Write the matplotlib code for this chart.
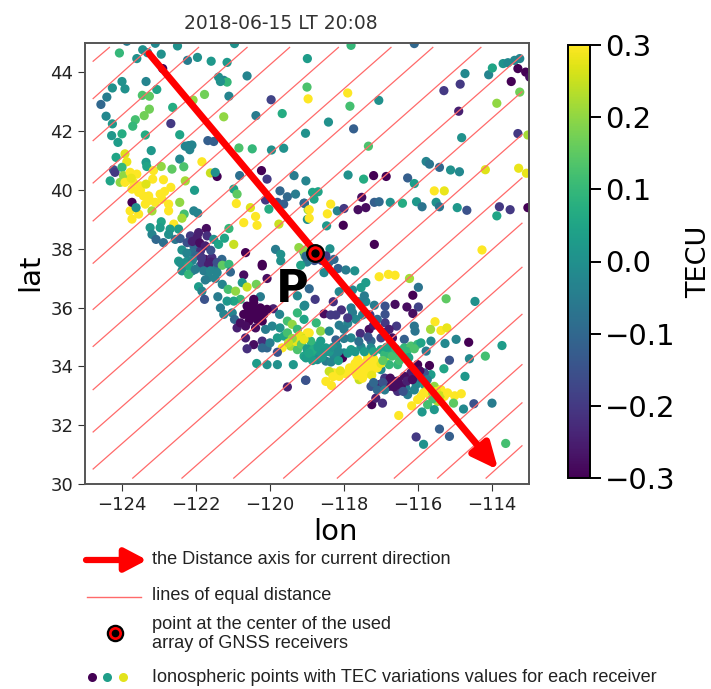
import matplotlib
matplotlib.use("Agg")
import matplotlib.pyplot as plt
from matplotlib.lines import Line2D
from matplotlib.patches import FancyArrowPatch

W, H = 711, 689

# (lon, lat, TEC), by region
points_north = [
    (-124.07, 44.66, .1), (-123.87, 45.06, -.05), (-123.44, 44.77, 0), (-123.31, 44.67, -.02), (-123.6, 44.47, 0),
    (-123.10, 44.99, -.02), (-122.94, 44.62, 0), (-122.5, 44.9, 0), (-122.23, 44.41, -.05), (-121.96, 44.51, 0),
    (-121.59, 44.38, .02), (-121.16, 44.34, .02), (-120.96, 44.98, 0), (-120.62, 43.88, -.03), (-121.39, 43.84, 0),
    (-121.25, 43.73, -.02), (-121.16, 43.67, .1), (-121.34, 43.69, 0), (-121.11, 43.19, -.03), (-118.99, 44.47, .03),
    (-119.0, 43.5, .13), (-118.97, 43.1, .3), (-119.97, 43.07, -.18), (-119.67, 42.6, .07), (-120.38, 42.53, -.05),
    (-121.25, 42.49, .2), (-121.77, 43.25, .17), (-122.08, 43.06, .2), (-122.9, 44.13, -.3), (-123.35, 43.69, -.03),
    (-123.06, 43.42, .05), (-123.45, 43.22, .13), (-123.26, 43.19, .15), (-122.63, 42.81, .07), (-123.26, 42.75, .17),
    (-123.4, 42.53, .17), (-123.64, 42.39, .12), (-123.71, 42.17, .1), (-122.68, 42.26, -.2), (-122.44, 41.88, .05),
    (-123.37, 41.87, .07), (-124.0, 41.91, .07), (-124.26, 42.25, .02), (-124.28, 41.85, .02), (-124.11, 41.62, .03),
    (-124.43, 42.51, -.02), (-124.57, 42.91, -.1), (-124.41, 43.16, -.05), (-124.26, 43.47, 0), (-124.0, 43.69, 0),
    (-123.92, 43.44, 0), (-122.2, 41.51, -.03), (-122.11, 41.53, -.03), (-122.29, 41.49, -.03), (-122.17, 41.37, -.03),
    (-121.68, 41.68, -.12), (-121.52, 41.65, -.12), (-123.21, 41.34, .02), (-122.44, 41.05, -.02), (-123.35, 40.94, .03),
    (-123.33, 40.8, .05),
]
points_nw_coast = [
    (-124.16, 41.11, .05), (-123.92, 41.23, .27), (-123.87, 40.96, .28), (-124.23, 40.69, -.15), (-124.19, 40.6, -.2),
    (-124.32, 40.31, .05), (-124.0, 40.77, .1), (-123.96, 40.49, .2), (-124.05, 40.26, .2), (-123.78, 40.6, .3),
    (-123.6, 40.54, .3), (-123.92, 40.26, .3), (-123.69, 40.26, .3), (-123.73, 40.03, .3), (-123.51, 40.14, .3),
    (-123.55, 39.92, .3), (-123.42, 39.8, .3), (-123.28, 39.8, .3), (-123.37, 39.52, .3), (-123.15, 40.66, .3),
    (-123.17, 40.37, .3), (-122.88, 40.35, .3), (-122.68, 40.09, .3), (-122.97, 39.86, .3), (-122.92, 39.69, .3),
    (-123.1, 39.58, .3), (-122.74, 39.52, .3), (-122.74, 39.29, .3), (-123.78, 39.29, .3), (-123.55, 39.18, .3),
    (-123.73, 39.01, .3), (-123.19, 39.29, .22), (-122.94, 40.8, .2), (-122.65, 40.71, .15), (-122.33, 40.79, .13),
    (-122.29, 40.31, .22), (-121.84, 40.96, .3), (-121.61, 40.58, .25), (-121.43, 40.46, -.3), (-121.48, 40.6, 0),
    (-123.73, 39.58, -.3), (-123.62, 39.4, 0), (-122.04, 39.99, .03), (-122.44, 39.58, .2), (-122.06, 39.29, -.03),
    (-121.95, 39.21, -.03), (-122.32, 39.18, .12), (-122.38, 39.04, .22), (-122.6, 38.84, .3),
    (-123.75, 40.4, .28), (-123.5, 40.0, .3), (-123.35, 40.2, .27), (-123.25, 39.65, .3), (-122.85, 39.95, .3),
]
points_mid = [
    (-122.94, 38.92, .05), (-122.97, 38.72, .03), (-123.24, 38.72, .02), (-123.19, 38.49, -.03), (-123.08, 38.32, -.1),
    (-122.88, 38.21, -.08), (-122.7, 38.67, .03), (-122.47, 38.67, .03), (-122.74, 38.49, 0), (-122.56, 38.32, -.06),
    (-122.43, 38.35, -.12), (-122.15, 38.44, -.2), (-121.93, 38.55, -.25), (-121.72, 38.69, -.28), (-121.97, 38.38, -.25),
    (-121.7, 38.44, -.22), (-122.24, 38.21, -.15), (-122.06, 38.1, -.1), (-122.38, 37.96, 0), (-122.11, 37.87, -.08),
    (-121.88, 37.93, -.22), (-121.75, 37.64, -.27), (-121.57, 37.7, -.22), (-121.52, 38.32, 0), (-121.39, 38.15, .05),
    (-121.23, 38.36, .05), (-121.11, 38.69, .1), (-120.98, 38.15, .25), (-120.66, 37.87, -.3), (-121.3, 37.64, -.1),
    (-122.47, 37.58, .03), (-122.24, 37.58, 0), (-120.84, 41.43, .13), (-120.48, 41.4, .1), (-119.96, 41.36, 0),
    (-119.63, 41.42, 0), (-119.04, 41.93, 0), (-119.35, 40.49, -.05), (-119.03, 40.31, -.03), (-120.23, 40.66, -.3),
    (-120.08, 40.37, -.2), (-120.82, 40.49, -.08), (-120.98, 40.03, .05), (-120.89, 39.86, .15), (-120.91, 39.54, .3),
    (-120.53, 39.4, .27), (-120.39, 39.1, .3), (-120.71, 38.89, .3), (-120.35, 38.8, .3), (-119.73, 39.97, -.1),
    (-119.53, 39.77, -.1), (-119.31, 39.86, -.05), (-120.12, 39.66, -.2), (-119.8, 39.58, -.15), (-119.63, 39.52, -.12),
    (-119.07, 39.55, -.1), (-120.03, 39.35, .07), (-118.97, 39.33, .2), (-119.76, 38.84, .25), (-118.99, 39.0, 0),
    (-119.85, 37.98, -.05), (-119.71, 37.81, 0), (-119.22, 38.04, .2), (-119.08, 37.87, 0), (-120.21, 37.47, -.3),
    (-122.1, 38.25, -.25), (-121.9, 38.2, -.28), (-121.75, 38.1, -.25), (-121.6, 37.95, -.15), (-122.0, 37.75, -.1),
    (-122.25, 37.85, -.03), (-121.85, 37.7, -.2), (-121.6, 37.55, -.25), (-121.45, 37.35, -.05), (-121.9, 37.4, -.05),
    (-122.1, 37.6, -.03), (-122.35, 37.4, .02), (-122.1, 37.25, -.02),
    (-118.95, 37.7, -.1), (-118.8, 37.6, -.15), (-118.6, 37.6, -.2), (-118.85, 38.0, 0), (-119.05, 37.75, .15),
    (-119.1, 37.95, .2), (-119.0, 37.55, -.05), (-118.4, 37.55, -.1),
]
points_northeast = [
    (-117.81, 44.92, .1), (-116.1, 44.98, -.1), (-117.9, 43.3, .3), (-117.84, 42.85, .12), (-117.06, 43.05, 0),
    (-118.42, 42.31, 0), (-117.74, 42.08, -.12), (-117.34, 41.49, .13), (-115.3, 43.38, -.2), (-114.86, 43.6, -.2),
    (-114.73, 43.96, -.02), (-114.09, 43.92, -.03), (-113.99, 44.15, .05), (-113.7, 44.3, 0), (-113.57, 44.33, -.02),
    (-113.39, 44.41, -.02), (-113.25, 44.47, -.03), (-113.3, 44.13, -.3), (-113.09, 44.01, -.3), (-112.98, 43.84, -.28),
    (-113.48, 43.69, -.3), (-113.25, 43.33, .17), (-113.87, 42.95, .2), (-114.9, 42.68, -.25), (-114.82, 41.78, 0),
    (-113.3, 41.92, -.2), (-113.03, 41.87, .22), (-115.78, 40.97, -.03), (-115.69, 40.88, -.07), (-115.42, 40.77, -.1),
    (-115.12, 40.68, 0), (-114.88, 40.62, -.02), (-114.18, 40.69, .27), (-113.28, 40.74, .28), (-113.07, 40.57, .28),
    (-117.89, 40.51, 0), (-117.47, 40.37, .07), (-117.2, 40.49, -.3), (-116.86, 40.46, -.3), (-116.28, 40.41, -.12),
    (-116.1, 40.22, .03), (-115.56, 39.97, .3), (-115.29, 39.97, .28), (-118.85, 39.92, .05), (-118.7, 39.94, .05),
    (-118.81, 39.69, .05), (-119.08, 39.55, -.1), (-118.36, 39.52, .3), (-118.94, 39.33, .3), (-118.45, 39.19, .3),
    (-118.94, 39.04, .3), (-118.18, 39.29, -.03), (-118.0, 39.37, -.2), (-117.62, 39.33, -.28), (-117.41, 39.4, -.28),
    (-117.52, 39.75, -.28), (-117.18, 39.58, -.12), (-117.05, 39.6, -.1), (-116.75, 39.58, 0), (-116.42, 39.55, .07),
    (-116.04, 39.6, .02), (-115.89, 39.43, -.07), (-115.51, 39.58, 0), (-115.42, 39.43, -.07), (-114.94, 39.4, .02),
    (-114.68, 39.31, -.15), (-113.8, 39.43, -.2), (-113.51, 39.33, -.2), (-113.03, 39.4, -.3), (-113.87, 39.12, .05),
    (-118.47, 38.78, .02), (-118.02, 38.8, -.3), (-117.18, 38.15, -.3), (-114.27, 37.96, .3), (-118.38, 38.0, 0),
    (-118.27, 37.64, -.1), (-118.49, 37.76, -.2), (-119.03, 37.75, -.1),
]
points_central = [
    (-120.21, 37.42, -.3), (-120.71, 37.11, -.28), (-120.08, 36.99, -.28), (-119.71, 37.59, 0), (-119.17, 37.44, .05),
    (-122.43, 37.53, 0), (-122.2, 37.42, .05), (-122.38, 37.25, 0), (-122.2, 37.13, .1), (-122.02, 37.3, -.05),
    (-121.84, 37.51, -.2), (-121.66, 37.47, -.25), (-121.43, 37.53, -.15), (-121.29, 37.44, .15), (-121.11, 37.47, .1),
    (-121.79, 37.25, -.05), (-121.61, 37.25, -.03), (-121.43, 37.19, -.03), (-121.66, 37.02, -.03), (-121.48, 36.99, -.03),
    (-121.75, 36.94, -.05), (-121.93, 36.71, .03), (-121.84, 36.56, -.03), (-121.77, 36.28, -.15), (-121.41, 36.37, -.05),
    (-121.29, 36.79, -.03), (-121.07, 37.21, -.1), (-120.75, 36.85, .02), (-121.13, 36.62, .12), (-120.93, 36.56, .2),
    (-120.62, 36.7, .25), (-120.37, 36.79, .17), (-120.8, 36.28, .1), (-120.98, 36.22, .05), (-121.16, 36.22, .02),
    (-121.34, 35.99, -.05), (-121.25, 35.77, -.03), (-121.02, 35.82, -.03), (-120.96, 35.6, -.1), (-120.26, 36.37, -.05),
    (-120.89, 35.31, -.25), (-120.44, 36.17, -.3), (-120.62, 36.05, -.3), (-120.26, 35.99, -.3), (-120.71, 35.77, -.3),
    (-120.44, 35.82, -.3), (-120.17, 35.77, -.3), (-120.57, 35.54, -.3), (-120.21, 35.54, -.3), (-120.8, 35.48, -.28),
    (-120.39, 35.31, -.28), (-120.66, 34.97, -.25), (-120.21, 34.86, -.22), (-120.44, 34.74, -.28), (-120.62, 34.6, -.22),
    (-119.91, 35.96, -.25), (-120.53, 35.94, -.3), (-120.35, 35.6, -.3), (-120.44, 36.28, -.3), (-120.08, 35.94, -.3),
    (-120.66, 35.37, -.28), (-120.12, 35.26, -.05), (-119.94, 35.37, -.03), (-119.73, 35.31, 0), (-119.74, 35.77, -.03),
    (-120.08, 34.63, -.1), (-120.21, 34.63, -.1), (-120.0, 34.8, -.05), (-119.8, 34.97, .03), (-119.62, 35.03, .05),
    (-119.53, 35.54, .12), (-119.26, 35.82, .1), (-119.4, 35.43, .2), (-119.53, 35.14, .12), (-119.26, 35.26, .1),
    (-119.08, 35.6, .05), (-119.26, 36.4, -.02), (-119.08, 36.05, 0), (-118.99, 35.14, .3), (-119.17, 34.92, .3),
    (-119.44, 34.69, .22), (-119.67, 34.63, .3), (-119.26, 34.57, .13), (-118.99, 34.57, .05), (-119.08, 34.35, .05),
    (-119.8, 34.48, -.15), (-120.36, 34.1, .03), (-120.08, 34.06, 0), (-119.8, 34.06, 0), (-119.37, 34.06, .02),
    (-119.04, 33.53, -.1), (-119.53, 33.3, -.25),
    (-120.55, 35.7, -.3), (-120.3, 35.7, -.3), (-120.45, 36.0, -.3), (-120.3, 35.85, -.3), (-120.6, 35.85, -.3),
    (-119.2, 35.05, .28), (-119.05, 34.95, .25), (-119.3, 34.85, .28), (-119.4, 34.95, .2), (-119.15, 34.75, .15),
    (-119.5, 34.8, .25), (-118.8, 34.7, .05),
]
points_south = [
    (-117.05, 37.05, .3), (-116.8, 37.13, .3), (-116.62, 37.1, .3), (-116.23, 36.99, .22), (-115.99, 36.69, -.07),
    (-116.14, 36.42, -.3), (-115.24, 36.3, .15), (-114.46, 36.21, 0), (-117.41, 36.85, .03), (-117.54, 36.68, .03),
    (-118.13, 36.54, -.02), (-117.77, 36.6, -.02), (-118.16, 37.33, -.12), (-117.95, 37.28, -.05), (-117.71, 37.25, 0),
    (-118.54, 37.19, -.02), (-118.94, 36.64, -.1), (-118.78, 36.28, -.2), (-119.06, 36.08, -.02), (-118.29, 36.2, -.22),
    (-118.07, 35.92, -.22), (-118.54, 35.79, -.28), (-118.36, 35.75, -.2), (-118.22, 35.75, -.2), (-117.81, 35.99, -.05),
    (-117.77, 35.83, -.05), (-117.41, 36.2, -.02), (-117.18, 36.08, -.05), (-116.89, 36.05, -.15), (-116.62, 36.11, -.28),
    (-116.3, 36.02, -.28), (-115.99, 36.02, -.18), (-116.14, 35.8, -.28), (-116.89, 35.77, -.15), (-116.89, 35.48, -.2),
    (-116.58, 35.37, -.2), (-116.78, 35.26, -.25), (-117.32, 35.26, -.28), (-117.56, 35.12, -.22), (-116.1, 35.37, -.07),
    (-116.08, 35.2, -.07), (-115.54, 35.52, .3), (-115.66, 35.26, .22), (-115.38, 35.22, .3), (-115.22, 35.31, .28),
    (-118.75, 35.48, .1), (-118.63, 35.2, .2), (-118.4, 35.2, -.02), (-118.13, 35.4, -.05), (-117.9, 35.46, -.03),
    (-118.0, 35.26, -.05), (-117.68, 35.6, -.02), (-118.22, 34.9, -.12), (-117.81, 34.97, -.02), (-117.27, 34.86, -.1),
    (-117.0, 34.97, -.18), (-116.69, 34.97, -.28), (-116.37, 34.92, -.12), (-119.03, 34.29, .03), (-118.85, 34.35, .05),
    (-118.67, 34.46, .02), (-118.63, 34.86, .03), (-118.9, 34.86, .1), (-119.08, 34.92, .28), (-118.94, 35.14, .3),
    (-118.49, 34.63, .03), (-118.72, 34.23, -.02), (-118.49, 34.18, -.05), (-118.27, 34.35, -.02), (-118.18, 34.69, -.02),
    (-118.0, 34.46, -.02), (-117.81, 34.57, .03), (-117.54, 34.66, -.02), (-117.27, 34.63, -.02), (-117.0, 34.57, .05),
    (-116.78, 34.52, .07), (-116.55, 34.46, .1), (-116.37, 34.63, .1), (-116.19, 34.69, .13), (-116.01, 34.75, .1),
    (-115.78, 34.52, -.05), (-115.92, 34.8, .05), (-115.65, 34.86, -.02), (-115.27, 34.78, -.02), (-114.97, 34.92, -.03),
    (-114.63, 34.82, -.3), (-113.73, 34.71, .03), (-114.18, 34.35, .12), (-114.61, 34.26, -.02), (-115.15, 34.21, -.15),
    (-115.3, 33.92, .05), (-114.73, 33.66, .02), (-118.04, 34.29, -.3), (-117.63, 34.23, .3), (-117.36, 34.35, .3),
    (-117.5, 34.0, .3), (-117.72, 33.83, .3), (-117.45, 33.72, .3), (-117.14, 34.12, .3), (-116.91, 34.23, .25),
    (-117.23, 33.89, .3), (-118.27, 33.78, .3), (-118.13, 33.66, .3), (-118.4, 33.83, .25), (-118.49, 33.49, .3),
    (-118.34, 33.35, .3), (-117.59, 33.55, .25), (-116.78, 34.06, .1), (-116.55, 34.06, .1), (-117.0, 33.89, -.02),
    (-119.03, 33.53, -.15), (-116.01, 34.06, -.3), (-115.69, 34.03, -.3), (-116.19, 33.78, -.25), (-116.37, 33.66, -.28),
    (-116.64, 33.49, -.25), (-116.78, 33.32, -.28), (-116.55, 33.15, -.22), (-117.05, 33.38, -.25), (-117.27, 33.32, -.15),
    (-116.01, 33.66, -.2), (-116.33, 33.27, -.05), (-116.28, 33.04, -.05), (-117.25, 32.7, -.3), (-117.14, 32.92, -.25),
    (-116.96, 32.75, -.22), (-115.65, 33.72, .03), (-115.83, 33.78, -.15), (-116.05, 33.38, -.02), (-115.83, 33.38, .05),
    (-115.56, 33.32, .2), (-115.38, 33.21, .3), (-115.92, 32.98, .3), (-116.01, 32.87, .3), (-116.17, 32.66, .3),
    (-116.52, 32.33, .3), (-115.69, 33.04, .3), (-115.29, 32.98, .3), (-115.01, 33.0, .3), (-114.83, 33.07, .3),
    (-115.47, 32.81, .22), (-115.74, 32.7, .12), (-115.04, 32.75, .15), (-115.89, 32.45, .02), (-115.56, 32.53, .02),
    (-114.77, 32.55, -.02), (-114.49, 32.73, -.15), (-114.0, 32.75, -.05), (-115.42, 31.87, -.12), (-115.15, 31.62, -.12),
    (-116.05, 31.6, -.2), (-115.85, 31.35, 0), (-113.63, 31.38, .12),
]
points_belt = [
    (-117.7, 34.1, .3), (-117.55, 34.05, .3), (-117.4, 34.15, .3), (-117.3, 34.0, .3), (-117.6, 33.9, .3),
    (-117.4, 33.85, .3), (-117.25, 33.7, .28), (-117.1, 33.95, .3), (-117.0, 34.1, .28), (-117.5, 33.6, .3),
    (-117.65, 33.7, .3), (-117.2, 34.25, .3), (-117.85, 33.95, .3), (-117.95, 33.75, .3), (-118.1, 33.85, .28),
    (-118.3, 33.65, .3), (-119.0, 34.6, .03), (-118.85, 34.55, .07), (-118.7, 34.65, .03), (-118.55, 34.45, .02),
    (-118.4, 34.5, .02), (-118.3, 34.65, .0), (-118.15, 34.5, -.02), (-117.9, 34.45, .02), (-117.7, 34.5, .02),
    (-117.45, 34.5, .03), (-117.2, 34.5, .05), (-118.85, 34.2, .03), (-118.6, 34.3, .02), (-118.35, 34.15, -.03),
    (-118.15, 34.2, .03), (-118.95, 34.45, .05), (-116.9, 34.4, .1), (-116.7, 34.35, .12), (-116.45, 34.35, .13),
    (-116.3, 34.5, .1), (-116.1, 34.6, .13), (-116.6, 34.6, .1), (-116.85, 34.65, .05), (-116.5, 34.2, .12),
    (-116.95, 34.2, .15), (-116.25, 34.3, .05), (-116.9, 33.6, -.2), (-116.75, 33.6, -.28), (-116.55, 33.5, -.28),
    (-116.45, 33.35, -.28), (-116.3, 33.5, -.25), (-116.15, 33.55, -.28), (-116.65, 33.3, -.28), (-116.95, 33.45, -.15),
    (-117.1, 33.2, -.1), (-116.9, 33.2, -.05), (-117.2, 33.45, -.1), (-116.4, 33.15, -.15), (-116.1, 33.2, -.03),
    (-115.9, 33.6, -.15), (-115.95, 33.85, -.28), (-115.75, 33.55, -.05), (-115.75, 33.2, .25), (-115.6, 33.1, .2),
    (-115.5, 33.15, .28), (-115.85, 33.1, .3), (-115.4, 33.0, .25), (-115.6, 32.9, .12), (-115.2, 33.1, .3),
    (-117.45, 36.4, -.05), (-117.6, 36.2, -.05), (-117.3, 35.75, -.2), (-117.1, 35.6, -.1), (-117.5, 35.75, -.03),
    (-117.9, 35.65, -.2), (-117.2, 35.4, -.25), (-116.9, 35.15, -.25), (-117.35, 35.0, -.15), (-118.0, 34.95, -.05),
    (-117.6, 34.85, -.08),
]

eq_lon0 = [-124.78] * 11 + [-123.71, -122.38, -120.98, -119.63, -118.18, -116.64, -115.47, -114.16]
eq_lat0 = [44.38, 43.11, 41.68, 40.24, 38.95, 37.51, 35.94, 34.68, 33.21, 31.77, 30.51] + [30.2] * 8
eq_lon1 = [-124.34, -123.24, -121.93, -120.62, -119.47, -118.15, -116.73, -115.6, -114.3] + [-113.19] * 10
eq_lat1 = [44.85] * 9 + [44.58, 43.34, 41.88, 40.41, 38.87, 37.37, 35.77, 34.06, 32.76, 31.3]

axis_start = (-123.27, 44.64)
axis_end = (-113.83, 30.48)
center = (-118.79, 37.85)

xticks = [-124, -122, -120, -118, -116, -114]
yticks = [30, 32, 34, 36, 38, 40, 42, 44]
cbar_ticks = [-0.3, -0.2, -0.1, 0.0, 0.1, 0.2, 0.3]

legend_texts = [
    "the Distance axis for current direction",
    "lines of equal distance",
    "point at the center of the used\narray of GNSS receivers",
    "Ionospheric points with TEC variations values for each receiver",
]
legend_dot_colors = ["#440154", "#1f9e89", "#e3e31c"]


def rect(x0, y0, x1, y1):
    # pixel box (y down) to figure fractions
    return [x0 / W, 1 - y1 / H, (x1 - x0) / W, (y1 - y0) / H]


fig = plt.figure(figsize=(W / 100, H / 100), dpi=100)
ax = fig.add_axes(rect(85, 43, 529, 484))

pts = points_north + points_nw_coast + points_mid + points_northeast + points_central + points_south + points_belt
lons, lats, tec = zip(*pts)
sc = ax.scatter(lons, lats, c=tec, cmap="viridis", vmin=-0.3, vmax=0.3, s=44, linewidths=0, zorder=2)

for x0, y0, x1, y1 in zip(eq_lon0, eq_lat0, eq_lon1, eq_lat1):
    ax.plot([x0, x1], [y0, y1], color="#ff6a6a", lw=0.9, zorder=3)

ax.add_patch(FancyArrowPatch(axis_start, axis_end, arrowstyle="-|>,head_length=1.1,head_width=0.5",
                             mutation_scale=14, color="#ff0000", lw=5, shrinkA=0, shrinkB=0, zorder=4))
ax.plot(*center, "o", ms=12, mfc="#ff0000", mec="black", mew=1.6, zorder=5)
ax.plot(*center, "o", ms=5, color="black", zorder=6)
ax.text(-119.4, 36.62, "P", fontsize=32, fontweight="bold", ha="center", va="center", zorder=6)

ax.set_xlim(-125, -113)
ax.set_ylim(30, 45)
ax.set_xticks(xticks)
ax.set_yticks(yticks)
ax.tick_params(labelsize=13, length=5, color="#333333", labelcolor="#222222")
ax.set_xlabel("lon", fontsize=21, labelpad=3, x=0.565)
ax.set_ylabel("lat", fontsize=21, labelpad=4, y=0.48)
ax.set_title("2018-06-15 LT 20:08", fontsize=13.5, color="#333333", pad=10, x=0.44)
for s in ax.spines.values():
    s.set_color("#555555")
    s.set_linewidth(1.4)

cax = fig.add_axes(rect(568, 45, 590, 478))
cb = fig.colorbar(sc, cax=cax, ticks=cbar_ticks)
cb.ax.tick_params(labelsize=21, length=8, width=1.4, pad=3)
cb.outline.set_linewidth(1.4)
cb.set_label("TECU", fontsize=19.5, labelpad=7)

# legend under the axes, placed by hand in figure pixels
fig.add_artist(FancyArrowPatch((86 / W, 1 - 560 / H), (147 / W, 1 - 560 / H), transform=fig.transFigure,
                               arrowstyle="-|>,head_length=0.95,head_width=0.5", mutation_scale=14,
                               color="#ff0000", lw=4.5, shrinkA=0, shrinkB=0))
fig.add_artist(Line2D([87 / W, 141 / W], [1 - 597 / H] * 2, color="#ff6a6a", lw=1.0))
fig.add_artist(Line2D([115 / W], [1 - 633 / H], marker="o", ms=11, mfc="#ff0000", mec="black", mew=1.6))
fig.add_artist(Line2D([115 / W], [1 - 633 / H], marker="o", ms=4.5, color="black"))
for px, c in zip([92, 107, 123], legend_dot_colors):
    fig.add_artist(Line2D([px / W], [1 - 677 / H], marker="o", ms=6.5, color=c, mew=0))

for txt, py in zip(legend_texts, [560, 595, 634, 677]):
    fig.text(152 / W, 1 - py / H, txt, fontsize=13.1, family="Liberation Sans", color="#222222",
             ha="left", va="center", linespacing=1.15)

fig.savefig("out.png", dpi=100)
